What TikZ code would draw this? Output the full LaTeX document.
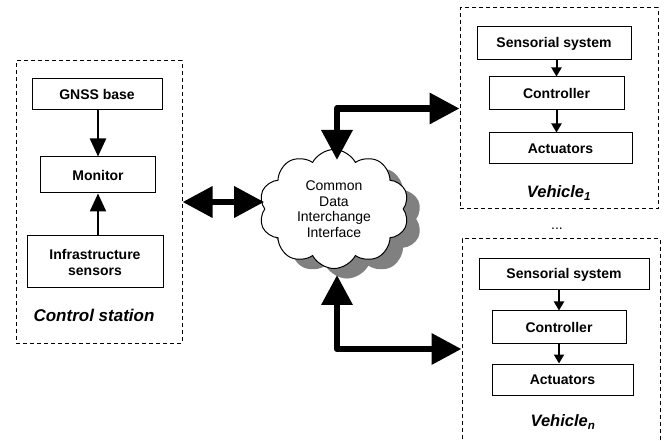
\documentclass[tikz,border=0pt]{standalone}
\usepackage{fontspec}
\setmainfont{Liberation Sans}
\usetikzlibrary{arrows.meta,shapes.symbols,shadows}
\tikzset{
  box/.style={draw, line width=1pt, inner sep=0pt, align=center, font=\fontsize{14}{16}\selectfont\bfseries},
  group/.style={draw, line width=1pt, dash pattern=on 4pt off 3pt, inner sep=0pt},
  title/.style={font=\fontsize{17}{20}\selectfont\bfseries\itshape},
  vtitle/.style={font=\fontsize{16.5}{19}\selectfont\bfseries\itshape},
  flow/.style={line width=2.3pt, -{Triangle[length=18pt,width=16pt]}},
  sflow/.style={line width=2pt, -{Triangle[length=9pt,width=10pt]}},
  link/.style={line width=6.5pt, line join=round, {Triangle[length=30pt,width=30pt]}-{Triangle[length=30pt,width=30pt]}},
  net/.style={cloud, cloud puffs=10, cloud puff arc=125, draw, line width=1pt, fill=white, inner sep=0pt,
    minimum width=150pt, minimum height=106pt, align=center, font=\fontsize{14}{15.5}\selectfont,
    drop shadow={shadow xshift=13pt, shadow yshift=-10pt, fill=black!50, opacity=1}}
}

\begin{document}
\begin{tikzpicture}[x=1pt, y=-1pt]
  \clip (0,0) rectangle (665,441);
  % control station
  \node[group, minimum width=166pt, minimum height=282pt] (cs) at (99,202) {};
  \node[box, minimum width=130pt, minimum height=31pt] (gnss) at (97,94.5) {GNSS base};
  \node[box, minimum width=115pt, minimum height=36pt] (mon) at (98,175) {Monitor};
  \node[box, minimum width=136pt, minimum height=52pt] (infra) at (95,262) {Infrastructure\\sensors};
  \node[title] (cslabel) at (94,315) {Control station};
  \draw[flow] (gnss.south -| mon.north) -- (mon.north);
  \draw[flow] (infra.north -| mon.south) -- (mon.south);

  % vehicle 1
  \node[group, minimum width=198pt, minimum height=201pt] (v1) at (559,108.5) {};
  \node[box, minimum width=154pt, minimum height=33pt] (s1) at (554,43.5) {Sensorial system};
  \node[box, minimum width=135pt, minimum height=33pt] (c1) at (556.5,93.5) {Controller};
  \node[box, minimum width=143pt, minimum height=31pt] (a1) at (560.5,148.5) {Actuators};
  \node[vtitle] (v1label) at (559,193) {Vehicle\textsubscript{1}};
  \draw[sflow] (s1.south -| c1.north) -- (c1.north);
  \draw[sflow] (c1.south) -- (c1.south |- a1.north);

  \node[font=\fontsize{14}{16}\selectfont] (dots) at (557,229) {...};

  % vehicle n
  \node[group, minimum width=198pt, minimum height=220pt] (vn) at (561,349) {};
  \node[box, minimum width=170pt, minimum height=31pt] (sn) at (564,274.5) {Sensorial system};
  \node[box, minimum width=134pt, minimum height=32pt] (cn) at (559,327) {Controller};
  \node[box, minimum width=141pt, minimum height=31pt] (an) at (562.5,379.5) {Actuators};
  \node[vtitle] (vnlabel) at (563,422) {Vehicle\textsubscript{n}};
  \draw[sflow] (sn.south -| cn.north) -- (cn.north);
  \draw[sflow] (cn.south) -- (cn.south |- an.north);

  % data interchange
  \node[net] (cdi) at (334,209) {Common\\Data\\Interchange\\Interface};
  \coordinate (ctop) at (337,160);
  \coordinate (cbot) at (337,275);
  \draw[link] (cs.east) -- (cdi.west |- cs.east);
  \draw[link] (ctop) |- (v1.west);
  \draw[link] (cbot) |- (vn.west);
\end{tikzpicture}
\end{document}
